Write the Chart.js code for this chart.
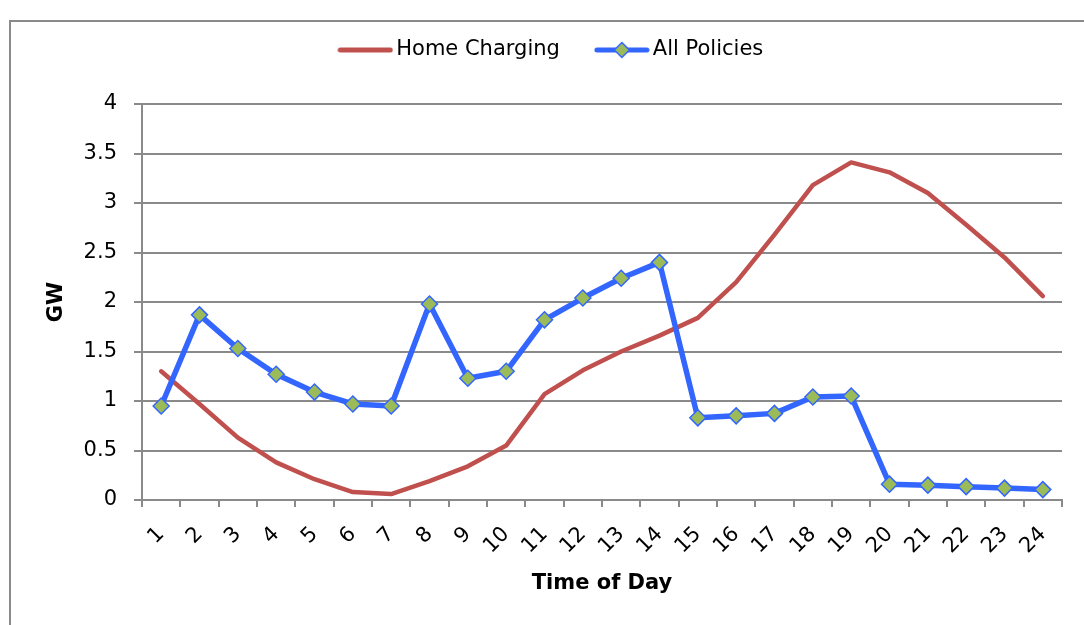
<!DOCTYPE html>
<html>
<head>
<meta charset="utf-8">
<script src="https://cdn.jsdelivr.net/npm/chart.js@4"></script>
<style>
  html, body { margin: 0; padding: 0; background: #fff; }
  #frame { position: absolute; left: 9px; top: 20px; width: 1200px; height: 800px; border: 2px solid #8a8a8a; box-sizing: border-box; }
  #wrap { position: absolute; left: 0; top: 0; width: 1084px; height: 625px; }
</style>
</head>
<body>
<div id="frame"></div>
<div id="wrap"><canvas id="c" width="1084" height="625"></canvas></div>
<script>
const hours = ['1','2','3','4','5','6','7','8','9','10','11','12','13','14','15','16','17','18','19','20','21','22','23','24'];
const homeCharging = [1.30, 0.97, 0.63, 0.38, 0.21, 0.08, 0.06, 0.19, 0.34, 0.55, 1.07, 1.31, 1.50, 1.66, 1.84, 2.20, 2.68, 3.18, 3.41, 3.31, 3.10, 2.78, 2.45, 2.06];
const allPolicies = [0.95, 1.87, 1.53, 1.27, 1.09, 0.97, 0.95, 1.98, 1.23, 1.30, 1.82, 2.04, 2.24, 2.40, 0.83, 0.85, 0.875, 1.04, 1.05, 0.16, 0.15, 0.135, 0.12, 0.105];
const yTickLabels = ['0', '0.5', '1', '1.5', '2', '2.5', '3', '3.5', '4'];
const seriesNames = ['Home Charging', 'All Policies'];
const yTitle = 'GW';
const xTitle = 'Time of Day';

const RED = '#C0504D';
const BLUE = '#3366FF';
const GREEN = '#9BBB59';
const GRID = '#8a8a8a';
const FONT = "'DejaVu Sans', sans-serif";

function marker(withDiamond, color) {
  const c = document.createElement('canvas');
  c.width = 56; c.height = 18;
  const g = c.getContext('2d');
  g.strokeStyle = color; g.lineWidth = 5; g.lineCap = 'round';
  g.beginPath(); g.moveTo(3, 9); g.lineTo(53, 9); g.stroke();
  if (withDiamond) {
    g.beginPath();
    g.moveTo(28, 1.5); g.lineTo(35.5, 9); g.lineTo(28, 16.5); g.lineTo(20.5, 9); g.closePath();
    g.fillStyle = GREEN; g.fill();
    g.lineWidth = 1.5; g.strokeStyle = BLUE; g.stroke();
  }
  return c;
}
const redMarker = marker(false, RED);
const blueMarker = marker(true, BLUE);

new Chart(document.getElementById('c'), {
  type: 'line',
  data: {
    labels: hours,
    datasets: [
      {
        label: seriesNames[0], data: homeCharging, order: 1,
        borderColor: RED, backgroundColor: RED, borderWidth: 4.5,
        pointRadius: 0, pointHoverRadius: 0, tension: 0, fill: false,
        borderCapStyle: 'round', borderJoinStyle: 'round'
      },
      {
        label: seriesNames[1], data: allPolicies, order: 0,
        borderColor: BLUE, backgroundColor: GREEN, borderWidth: 5.5,
        pointStyle: 'rectRot', pointRadius: 8, pointBorderWidth: 1.5,
        pointBackgroundColor: GREEN, pointBorderColor: BLUE,
        tension: 0, fill: false, borderJoinStyle: 'round'
      }
    ]
  },
  options: {
    responsive: false,
    animation: false,
    devicePixelRatio: 1,
    layout: { padding: { left: 46, right: 22, top: -2, bottom: 0 } },
    plugins: {
      tooltip: { enabled: false },
      legend: {
        position: 'top',
        align: 'center',
        labels: {
          usePointStyle: true,
          pointStyleWidth: 41,
          padding: 41.5,
          color: '#000',
          font: { family: FONT, size: 21 },
          generateLabels: () => [
            { text: seriesNames[0], pointStyle: redMarker, fillStyle: RED, strokeStyle: RED, lineWidth: 0, datasetIndex: 0, hidden: false, fontColor: '#000' },
            { text: seriesNames[1], pointStyle: blueMarker, fillStyle: GREEN, strokeStyle: BLUE, lineWidth: 0, datasetIndex: 1, hidden: false, fontColor: '#000' }
          ]
        }
      },
      subtitle: {
        display: true, text: '', weight: 500, position: 'top',
        font: { size: 10, lineHeight: 1 }, padding: { top: 0, bottom: 23.5 }
      }
    },
    scales: {
      x: {
        type: 'category',
        offset: true,
        afterFit: (s) => { s.height = 125; },
        grid: { display: true, offset: true, drawOnChartArea: false, drawTicks: true, tickLength: 7, color: GRID, lineWidth: 2 },
        border: { display: true, color: GRID, width: 2 },
        ticks: { color: '#000', font: { family: FONT, size: 21 }, minRotation: 45, maxRotation: 45, padding: 15, autoSkip: false },
        title: { display: true, text: xTitle, color: '#000', font: { family: FONT, size: 21, weight: 'bold' }, padding: { top: 0, bottom: 29 } }
      },
      y: {
        min: 0, max: 4,
        afterFit: (s) => { s.width = 96; },
        grid: { display: true, drawTicks: true, tickLength: 8, color: GRID, lineWidth: 2 },
        border: { display: true, color: GRID, width: 2 },
        ticks: {
          stepSize: 0.5, color: '#000', font: { family: FONT, size: 21 }, padding: 17,
          callback: (v, i) => yTickLabels[i]
        },
        title: { display: true, text: yTitle, color: '#000', font: { family: FONT, size: 21, weight: 'bold' }, padding: { top: -1.6, bottom: 0 } }
      }
    }
  }
});
</script>
</body>
</html>
